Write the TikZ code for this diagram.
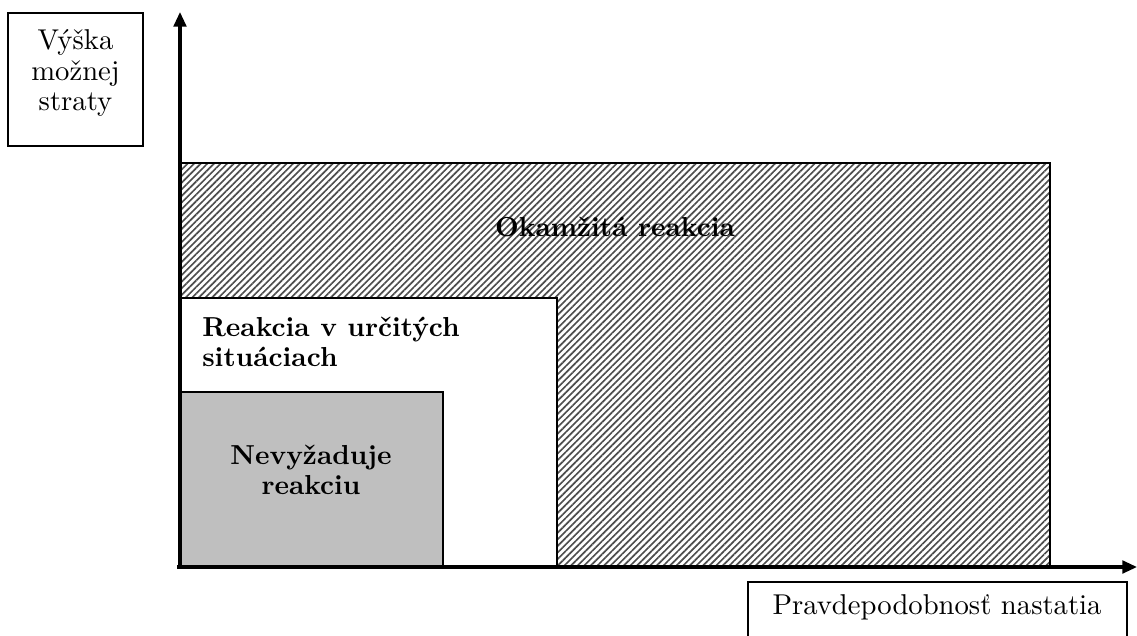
\documentclass[tikz,border=0pt]{standalone}
\usepackage{fontspec}
\setmainfont{lmroman10-regular.otf}[BoldFont=lmroman10-bold.otf]
\usetikzlibrary{patterns.meta,arrows.meta}
\begin{document}
\begin{tikzpicture}[x=0.75pt,y=-0.75pt,
  axis/.style={line width=2.3pt,-{Triangle[length=11pt,width=9.5pt]}},
  zone/.style={line width=1.1pt},
  hatch/.style={pattern={Lines[angle=45,distance=3.5pt,line width=1.25pt]},pattern color=black!70},
  labeltext/.style={font=\fontsize{21.5}{22.8}\selectfont,align=center,inner sep=0pt},
  zonetext/.style={font=\fontsize{20.6}{22.5}\selectfont\bfseries,inner sep=0pt}]
\useasboundingbox (0,0) rectangle (1137,635);

% named corners of the plot
\coordinate (origin) at (180,567);
\coordinate (ytip) at (180,12);
\coordinate (xtip) at (1137,567);

% zones, largest first
\draw[zone,hatch] (180,163) rectangle (1050,567);
\draw[zone,fill=white] (180,298) rectangle (557,567);
\draw[zone,line width=1.4pt,fill=black!25] (180,392) rectangle (443,567);

% zone labels
\node[zonetext] (now) at (615,227) {Okamžitá reakcia};
\node[zonetext,align=left,anchor=west] (some) at (202,342) {Reakcia v určitých\\situáciach};
\node[zonetext,align=center] (none) at (311,470) {Nevyžaduje\\reakciu};

% axes
\draw[axis] (177,567) -- (xtip);
\draw[axis] (180,568.5) -- (ytip);

% axis titles
\draw[line width=1.1pt] (8,13) rectangle (143,146);
\node[labeltext] (ytitle) at (75.5,73) {Výška\\možnej\\straty};
\node[labeltext] (xtitle) at (937,607) {Pravdepodobnosť nastatia};
\draw[line width=1.1pt] (748,640) |- (1127,582) -- (1127,640);
\end{tikzpicture}
\end{document}
